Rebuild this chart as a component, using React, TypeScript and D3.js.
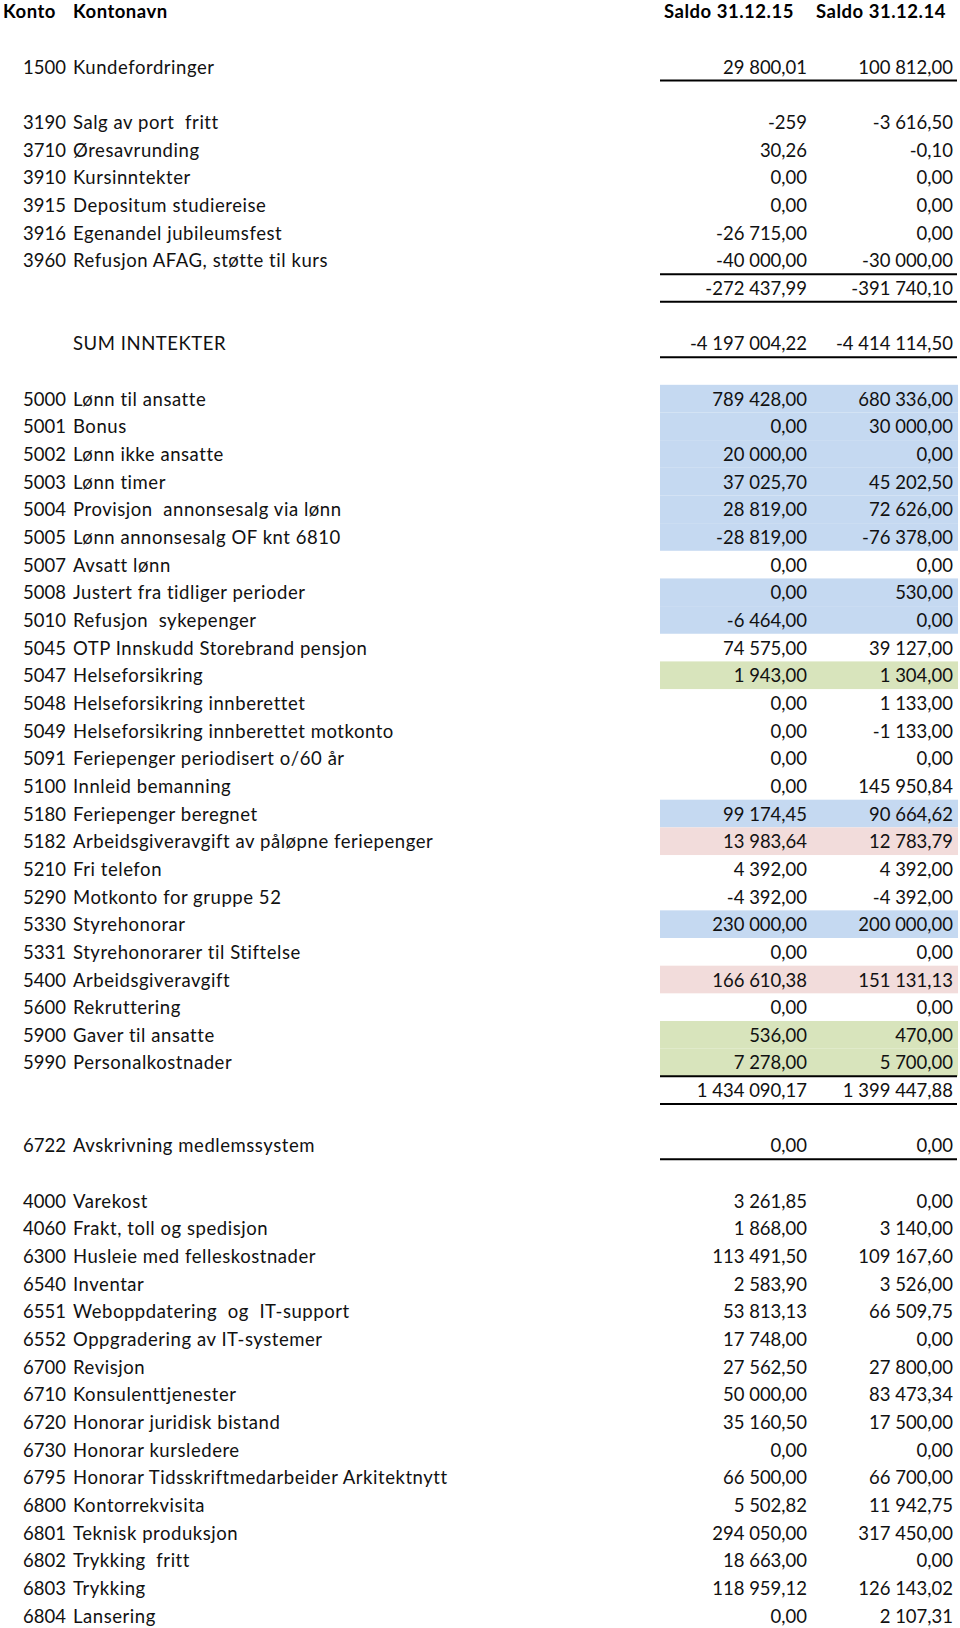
import React from "react";
import * as d3 from "d3";

// Kontoplan – rad for rad, tomme rader er null
const konto = [
  null, "1500", null,
  "3190", "3710", "3910", "3915", "3916", "3960", "", null, "", null,
  "5000", "5001", "5002", "5003", "5004", "5005", "5007", "5008", "5010", "5045",
  "5047", "5048", "5049", "5091", "5100", "5180", "5182", "5210", "5290", "5330",
  "5331", "5400", "5600", "5900", "5990", "", null, "6722", null,
  "4000", "4060", "6300", "6540", "6551", "6552", "6700", "6710", "6720", "6730",
  "6795", "6800", "6801", "6802", "6803", "6804",
];

const kontonavn = [
  null, "Kundefordringer", null,
  "Salg av port  fritt", "Øresavrunding", "Kursinntekter", "Depositum studiereise",
  "Egenandel jubileumsfest", "Refusjon AFAG, støtte til kurs", "", null, "SUM INNTEKTER", null,
  "Lønn til ansatte", "Bonus", "Lønn ikke ansatte", "Lønn timer", "Provisjon  annonsesalg via lønn",
  "Lønn annonsesalg OF knt 6810", "Avsatt lønn", "Justert fra tidliger perioder", "Refusjon  sykepenger",
  "OTP Innskudd Storebrand pensjon", "Helseforsikring", "Helseforsikring innberettet",
  "Helseforsikring innberettet motkonto", "Feriepenger periodisert o/60 år", "Innleid bemanning",
  "Feriepenger beregnet", "Arbeidsgiveravgift av påløpne feriepenger", "Fri telefon",
  "Motkonto for gruppe 52", "Styrehonorar", "Styrehonorarer til Stiftelse", "Arbeidsgiveravgift",
  "Rekruttering", "Gaver til ansatte", "Personalkostnader", "", null, "Avskrivning medlemssystem", null,
  "Varekost", "Frakt, toll og spedisjon", "Husleie med felleskostnader", "Inventar",
  "Weboppdatering  og  IT-support", "Oppgradering av IT-systemer", "Revisjon", "Konsulenttjenester",
  "Honorar juridisk bistand", "Honorar kursledere", "Honorar Tidsskriftmedarbeider Arkitektnytt",
  "Kontorrekvisita", "Teknisk produksjon", "Trykking  fritt", "Trykking", "Lansering",
];

const saldo15 = [
  null, 29800.01, null,
  -259, 30.26, 0, 0, -26715, -40000, -272437.99, null, -4197004.22, null,
  789428, 0, 20000, 37025.7, 28819, -28819, 0, 0, -6464, 74575,
  1943, 0, 0, 0, 0, 99174.45, 13983.64, 4392, -4392, 230000,
  0, 166610.38, 0, 536, 7278, 1434090.17, null, 0, null,
  3261.85, 1868, 113491.5, 2583.9, 53813.13, 17748, 27562.5, 50000, 35160.5, 0,
  66500, 5502.82, 294050, 18663, 118959.12, 0,
];

const saldo14 = [
  null, 100812, null,
  -3616.5, -0.1, 0, 0, 0, -30000, -391740.1, null, -4414114.5, null,
  680336, 30000, 0, 45202.5, 72626, -76378, 0, 530, 0, 39127,
  1304, 1133, -1133, 0, 145950.84, 90664.62, 12783.79, 4392, -4392, 200000,
  0, 151131.13, 0, 470, 5700, 1399447.88, null, 0, null,
  0, 3140, 109167.6, 3526, 66509.75, 0, 27800, 83473.34, 17500, 0,
  66700, 11942.75, 317450, 0, 126143.02, 2107.31,
];

// markering: b = blå, g = grønn, r = rosa
const markering: Record<string, string> = {
  "5000": "b", "5001": "b", "5002": "b", "5003": "b", "5004": "b", "5005": "b",
  "5008": "b", "5010": "b", "5180": "b", "5330": "b",
  "5047": "g", "5900": "g", "5990": "g",
  "5182": "r", "5400": "r",
};

// rader med strek under (indeks)
const strekUnder = [1, 8, 9, 11, 37, 38, 40];

// heltall vises uten desimaler i denne cellen
const utenDesimaler = ["3190"];

const kolonner = ["Saldo 31.12.15", "Saldo 31.12.14"];

const fillColor: Record<string, string> = { b: "#c5d9f1", g: "#d8e4bc", r: "#f2dcdb" };

const W = 960;
const H = 1628;
const pitch = 27.66;
const top = 11.4 - pitch / 2 + pitch; // første datarad (indeks 0 = rad 1)

const nb = d3.formatLocale({
  decimal: ",",
  thousands: "\u00a0",
  grouping: [3],
  currency: ["", " kr"],
  minus: "-",
});
const f2 = nb.format(",.2f");
const f0 = nb.format(",.0f");

const FONT = "Lato, 'Open Sans', sans-serif";

export default function App() {
  const y = d3
    .scaleBand<number>()
    .domain(d3.range(konto.length))
    .range([top, top + pitch * konto.length])
    .paddingInner(0)
    .paddingOuter(0);

  const colX = d3.scaleOrdinal<number, number>().domain([0, 1]).range([660, 808]);
  const colRight = d3.scaleOrdinal<number, number>().domain([0, 1]).range([807, 953]);
  const colMid = d3.scaleOrdinal<number, number>().domain([0, 1]).range([729, 881]);
  const bw = y.bandwidth();

  return (
    <svg
      width={W}
      height={H}
      style={{ position: "absolute", left: 0, top: 0, display: "block", background: "#fff" }}
      fontFamily={FONT}
    >
      <rect width={W} height={H} fill="#fff" />
      {/* header */}
      <g fontWeight="bold" fontSize={18.5} fill="#000" letterSpacing={0.5}>
        <text x={3} y={17.5}>Konto</text>
        <text x={73} y={17.5}>Kontonavn</text>
        {kolonner.map((k, i) => (
          <text key={k} x={colMid(i)} y={17.5} textAnchor="middle">{k}</text>
        ))}
      </g>

      {/* fills */}
      {konto.map((k, i) =>
        k && markering[k] ? (
          <rect key={"f" + i} x={660} y={y(i)} width={298} height={bw} fill={fillColor[markering[k]]} />
        ) : null
      )}

      {/* rows */}
      <g fontSize={18.5} fill="#111">
        {konto.map((k, i) => {
          if (k === null) return null;
          const base = (y(i) as number) + bw / 2 + 7;
          const v = [saldo15[i], saldo14[i]];
          return (
            <g key={"r" + i}>
              {k && <text x={23} y={base}>{k}</text>}
              {kontonavn[i] && (
                <text x={73} y={base} letterSpacing={0.55} style={{ whiteSpace: "pre" }}>
                  {kontonavn[i]}
                </text>
              )}
              {v.map((val, j) =>
                val === null ? null : (
                  <text key={j} x={colRight(j)} y={base} textAnchor="end">
                    {j === 0 && utenDesimaler.includes(k) ? f0(val) : f2(val)}
                  </text>
                )
              )}
            </g>
          );
        })}
      </g>

      {/* underlines */}
      {strekUnder.map((i) => (
        <line
          key={"s" + i}
          x1={colX(0)}
          x2={957}
          y1={(y(i) as number) + bw}
          y2={(y(i) as number) + bw}
          stroke="#000"
          strokeWidth={2}
        />
      ))}
    </svg>
  );
}
